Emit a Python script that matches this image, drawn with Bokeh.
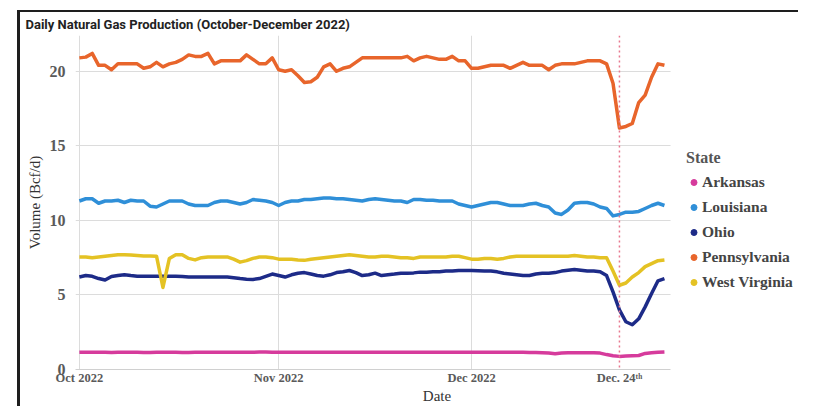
import math
import pandas as pd
from bokeh.plotting import figure
from bokeh.models import Span, Legend, LegendItem, FixedTicker, Range1d, ColumnDataSource, BoxAnnotation
from bokeh.embed import file_html
from bokeh.resources import INLINE

dates = pd.date_range("2022-10-01", "2022-12-31", freq="D")

states = ["Arkansas", "Louisiana", "Ohio", "Pennsylvania", "West Virginia"]
colors = ["#d63b9c", "#2f8fd8", "#1d2b88", "#e8652b", "#e4c224"]

pennsylvania = [
    20.9, 20.95, 21.2, 20.4, 20.4, 20.1, 20.5, 20.5, 20.5, 20.5,
    20.2, 20.3, 20.6, 20.3, 20.5, 20.6, 20.8, 21.1, 21.0, 21.0,
    21.2, 20.5, 20.7, 20.7, 20.7, 20.7, 21.1, 20.8, 20.5, 20.5,
    20.9, 20.1, 20.0, 20.1, 19.7, 19.25, 19.3, 19.6, 20.3, 20.5,
    20.0, 20.2, 20.3, 20.6, 20.9, 20.9, 20.9, 20.9, 20.9, 20.9,
    20.9, 21.0, 20.7, 20.9, 21.0, 20.9, 20.8, 20.8, 21.0, 20.7,
    20.7, 20.2, 20.2, 20.3, 20.4, 20.4, 20.4, 20.2, 20.4, 20.6,
    20.4, 20.4, 20.4, 20.1, 20.4, 20.5, 20.5, 20.5, 20.6, 20.7,
    20.7, 20.7, 20.5, 19.2, 16.2, 16.3, 16.5, 17.9, 18.4, 19.6,
    20.5, 20.4,
]

louisiana = [
    11.3, 11.45, 11.45, 11.15, 11.3, 11.3, 11.35, 11.2, 11.35, 11.3,
    11.3, 10.95, 10.9, 11.1, 11.3, 11.3, 11.3, 11.1, 11.0, 11.0,
    11.0, 11.2, 11.3, 11.3, 11.2, 11.1, 11.2, 11.4, 11.35, 11.3,
    11.2, 11.0, 11.2, 11.3, 11.3, 11.4, 11.4, 11.45, 11.5, 11.5,
    11.45, 11.45, 11.4, 11.35, 11.3, 11.4, 11.45, 11.4, 11.35, 11.3,
    11.3, 11.2, 11.4, 11.4, 11.35, 11.35, 11.3, 11.3, 11.3, 11.1,
    11.0, 10.9, 11.0, 11.1, 11.2, 11.2, 11.1, 11.0, 11.0, 11.0,
    11.1, 11.15, 11.0, 10.9, 10.5, 10.4, 10.7, 11.15, 11.2, 11.2,
    11.1, 10.9, 10.8, 10.3, 10.4, 10.55, 10.55, 10.6, 10.8, 11.0,
    11.15, 11.0,
]

west_virginia = [
    7.55, 7.55, 7.5, 7.55, 7.6, 7.65, 7.7, 7.7, 7.68, 7.65,
    7.62, 7.62, 7.6, 5.5, 7.45, 7.7, 7.7, 7.45, 7.35, 7.5,
    7.55, 7.55, 7.55, 7.55, 7.4, 7.2, 7.3, 7.45, 7.55, 7.55,
    7.5, 7.4, 7.4, 7.4, 7.35, 7.32, 7.4, 7.45, 7.5, 7.55,
    7.6, 7.65, 7.7, 7.65, 7.6, 7.55, 7.55, 7.6, 7.6, 7.55,
    7.5, 7.5, 7.45, 7.55, 7.55, 7.55, 7.55, 7.55, 7.6, 7.6,
    7.5, 7.4, 7.4, 7.45, 7.45, 7.4, 7.45, 7.55, 7.6, 7.6,
    7.6, 7.6, 7.6, 7.6, 7.6, 7.6, 7.6, 7.65, 7.6, 7.55,
    7.55, 7.5, 7.5, 6.6, 5.65, 5.8, 6.2, 6.5, 6.9, 7.1,
    7.3, 7.35,
]

ohio = [
    6.2, 6.3, 6.25, 6.1, 6.0, 6.24, 6.3, 6.35, 6.3, 6.26,
    6.26, 6.26, 6.26, 6.26, 6.26, 6.26, 6.24, 6.2, 6.2, 6.2,
    6.2, 6.2, 6.2, 6.2, 6.15, 6.1, 6.06, 6.04, 6.1, 6.25,
    6.4, 6.3, 6.2, 6.35, 6.45, 6.5, 6.4, 6.3, 6.26, 6.35,
    6.5, 6.55, 6.64, 6.5, 6.3, 6.35, 6.46, 6.3, 6.35, 6.4,
    6.46, 6.46, 6.48, 6.53, 6.53, 6.55, 6.55, 6.6, 6.6, 6.64,
    6.64, 6.64, 6.62, 6.6, 6.6, 6.55, 6.45, 6.4, 6.35, 6.3,
    6.3, 6.4, 6.45, 6.45, 6.5, 6.6, 6.65, 6.7, 6.65, 6.6,
    6.6, 6.55, 6.3, 5.2, 4.0, 3.2, 3.0, 3.4, 4.2, 5.1,
    5.95, 6.1,
]

arkansas = [
    1.15, 1.16, 1.16, 1.15, 1.15, 1.14, 1.15, 1.15, 1.15, 1.15,
    1.14, 1.14, 1.15, 1.15, 1.15, 1.15, 1.14, 1.14, 1.15, 1.15,
    1.15, 1.15, 1.15, 1.15, 1.16, 1.16, 1.16, 1.16, 1.17, 1.17,
    1.16, 1.16, 1.15, 1.15, 1.15, 1.15, 1.15, 1.15, 1.16, 1.16,
    1.16, 1.16, 1.15, 1.15, 1.15, 1.15, 1.16, 1.16, 1.16, 1.16,
    1.16, 1.16, 1.15, 1.15, 1.15, 1.15, 1.15, 1.15, 1.16, 1.16,
    1.16, 1.15, 1.15, 1.15, 1.15, 1.15, 1.15, 1.15, 1.15, 1.15,
    1.14, 1.14, 1.12, 1.1, 1.05, 1.1, 1.12, 1.12, 1.13, 1.13,
    1.12, 1.1, 1.0, 0.92, 0.88, 0.9, 0.92, 0.94, 1.08, 1.12,
    1.15, 1.17,
]

series = [arkansas, louisiana, ohio, pennsylvania, west_virginia]

tick_dates = ["2022-10-01", "2022-11-01", "2022-12-01", "2022-12-24"]
tick_labels = ["Oct 2022", "Nov 2022", "Dec 2022", "Dec. 24\u1d57\u02b0"]
grid_dates = ["2022-10-01", "2022-11-01", "2022-12-01"]
event_date = "2022-12-24"

DAY = 86400000.0
def ms(d):
    return pd.Timestamp(d).value / 1e6

x_start = ms("2022-10-01") - 0.6 * DAY
x_data_end = x_start + 92.55 * DAY
x_end = x_start + 112.45 * DAY

line_col = "#1e1e1e"
p = figure(width=798, height=406, x_axis_type="datetime",
           output_backend="svg", toolbar_location=None,
           x_range=Range1d(x_start, x_end), y_range=Range1d(0, 22.4),
           min_border_left=75, min_border_right=0, min_border_top=35, min_border_bottom=37,
           styles={"background-image": f"linear-gradient({line_col},{line_col}), linear-gradient({line_col},{line_col})",
                   "background-size": "3px 100%, 100% 2px",
                   "background-position": "17px 10px, 17px 10px",
                   "background-repeat": "no-repeat"})

p.title.text = "Daily Natural Gas Production (October-December 2022)"
p.title.text_font = "Roboto"
p.title.text_font_style = "bold"
p.title.text_font_size = "13px"
p.title.text_color = "#222222"
p.title.align = "left"
p.title.offset = -50
p.title.standoff = 8

p.outline_line_color = None
p.background_fill_color = "white"
p.border_fill_alpha = 0

src = ColumnDataSource(dict(date=dates, **{s: v for s, v in zip(states, series)}))

items = []
for s, c in zip(states, colors):
    p.line("date", s, source=src, line_color=c, line_width=3.5, line_join="round")
for s, c in zip(states, colors):
    r = p.scatter(x=[math.nan], y=[math.nan], color=c, size=6)
    items.append(LegendItem(label=s, renderers=[r]))

p.add_layout(Span(location=ms(event_date), dimension="height", line_color="#e8788f",
                  line_dash="2 3", line_width=1.5))
# blank area to the right of the plotted region (legend area)
p.add_layout(BoxAnnotation(left=x_data_end, fill_color="white", fill_alpha=1,
                           line_color=None, level="underlay"))

# axes
p.xaxis.ticker = FixedTicker(ticks=[ms(d) for d in tick_dates])
p.xaxis.major_label_overrides = {ms(d): lab for d, lab in zip(tick_dates, tick_labels)}
p.xaxis.bounds = (x_start, x_data_end)
p.xgrid.ticker = FixedTicker(ticks=[ms(d) for d in grid_dates])
p.yaxis.ticker = FixedTicker(ticks=[0, 5, 10, 15, 20])

for ax in (p.xaxis, p.yaxis):
    ax.major_tick_line_color = None
    ax.minor_tick_line_color = None
    ax.major_tick_out = 0
    ax.major_tick_in = 0
    ax.minor_tick_out = 0
    ax.minor_tick_in = 0
    ax.major_label_text_font = "Liberation Serif"
    ax.major_label_text_font_style = "bold"
    ax.major_label_text_color = "#5a5a5a"
    ax.axis_label_text_font = "Liberation Serif"
    ax.axis_label_text_font_style = "normal"
    ax.axis_label_text_color = "#333333"

p.xaxis.axis_line_color = "#d0d0d0"
p.yaxis.axis_line_color = None
p.xaxis.major_label_text_font_size = "12.5px"
p.yaxis.major_label_text_font_size = "16px"
p.xaxis.major_label_standoff = 1
p.yaxis.major_label_standoff = 10
p.xaxis.axis_label = "Date"
p.yaxis.axis_label = "Volume (Bcf/d)"
p.xaxis.axis_label_text_font_size = "15px"
p.yaxis.axis_label_text_font_size = "15px"
p.xaxis.axis_label_standoff = 0
p.yaxis.axis_label_standoff = 4

p.xgrid.grid_line_color = "#dcdcdc"
p.ygrid.grid_line_color = "#dcdcdc"

legend = Legend(items=items, title="State", location=(611, 77))
legend.title_text_font = "Liberation Serif"
legend.title_text_font_style = "bold"
legend.title_text_font_size = "16px"
legend.title_text_color = "#555555"
legend.title_standoff = 5
legend.label_text_font = "Liberation Serif"
legend.label_text_font_style = "bold"
legend.label_text_font_size = "15.5px"
legend.label_text_color = "#444444"
legend.glyph_width = 15
legend.glyph_height = 20
legend.label_height = 20
legend.label_standoff = 1
legend.spacing = 5
legend.padding = 0
legend.margin = 0
legend.border_line_color = None
legend.background_fill_alpha = 0
p.add_layout(legend, "center")

open("out.html", "w").write(file_html(p, INLINE))
